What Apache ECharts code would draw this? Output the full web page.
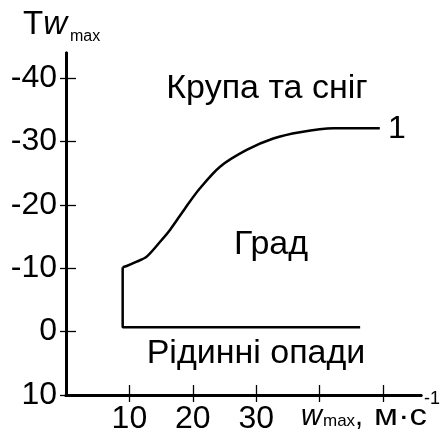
<!DOCTYPE html>
<html>
<head>
<meta charset="utf-8">
<script src="https://cdn.jsdelivr.net/npm/echarts@6/dist/echarts.min.js"></script>
<style>
html,body{margin:0;padding:0;background:#fff;}
#chart{width:441px;height:439px;}
</style>
</head>
<body>
<div id="chart"></div>
<script>
// ---- data ----
const yTickValues = [-40, -30, -20, -10, 0, 10];
const xTickValues = [10, 20, 30, 40, 50];
const xLabelValues = [10, 20, 30];
// boundary between liquid precipitation and hail (bottom line + vertical step)
const boundaryLine = [[46.4, -0.7], [8.94, -0.7], [8.94, -10.17]];
// curve 1: boundary between hail and graupel/snow
const curve1 = [
  [8.94, -10.17], [9.57, -10.37], [11.15, -11.05], [12.73, -11.84],
  [15.09, -14.48], [16.4, -16.06], [18.8, -19.5],
  [21.1, -22.6], [24.3, -26.05], [28.5, -28.7],
  [32.7, -30.5], [36.9, -31.5], [42.2, -32.1], [49.5, -32.1]
];
const regionLabels = ['Крупа та сніг', 'Град', 'Рідинні опади'];
const curveLabel = '1';

const FONT = '"Liberation Sans", Arial, sans-serif';
const chart = echarts.init(document.getElementById('chart'), null, {renderer: 'canvas'});

const axisLineStyle = {color: '#000', width: 3};
function xAxisDef(inside) {
  return {
    type: 'value', min: 0, max: 56, position: 'bottom',
    axisLine: {show: true, onZero: false, lineStyle: axisLineStyle},
    axisTick: {show: true, inside: inside, length: inside ? 10 : 7,
      customValues: xTickValues, lineStyle: {color: '#000', width: 1.3}},
    axisLabel: inside ? {show: false} : {show: true, customValues: xLabelValues,
      fontSize: 32, color: '#000', fontFamily: FONT, margin: 8},
    splitLine: {show: false}
  };
}
function yAxisDef(inside) {
  return {
    type: 'value', min: -44, max: 10, inverse: true, position: 'left',
    axisLine: {show: true, onZero: false, lineStyle: axisLineStyle},
    axisTick: {show: true, inside: inside, length: inside ? 10 : 6,
      customValues: yTickValues, lineStyle: {color: '#000', width: 1.3}},
    axisLabel: inside ? {show: false} : {show: true, customValues: yTickValues,
      fontSize: 32, color: '#000', fontFamily: FONT, margin: 9},
    splitLine: {show: false}
  };
}

const txt = (x, y, text, size, extra) => Object.assign({
  type: 'text', x: x, y: y, silent: true,
  style: Object.assign({text: text, fontSize: size, fontFamily: FONT, fill: '#000',
    verticalAlign: 'middle', align: 'left'}, extra || {})
});

chart.setOption({
  backgroundColor: '#fff',
  animation: false,
  grid: {left: 66, top: 53, width: 355, height: 342, containLabel: false},
  xAxis: [xAxisDef(false), xAxisDef(true)],
  yAxis: [yAxisDef(false), yAxisDef(true)],
  series: [
    {type: 'line', data: boundaryLine, symbol: 'none', xAxisIndex: 0, yAxisIndex: 0,
      lineStyle: {color: '#000', width: 2.5}},
    {type: 'line', data: curve1, symbol: 'none', smooth: 0.3,
      xAxisIndex: 0, yAxisIndex: 0, lineStyle: {color: '#000', width: 2.5}}
  ],
  graphic: [
    // y axis name: T w_max
    txt(23, 25, '{a|T}{b|w}', 33, {rich: {a: {fontSize: 33, fontFamily: FONT}, b: {fontSize: 33, fontStyle: 'italic', fontFamily: FONT}}}),
    txt(70, 37, 'max', 16),
    // x axis name: w_max, м·с^-1
    txt(301, 417, 'w', 29, {fontStyle: 'italic'}),
    txt(323, 421, 'max', 17),
    txt(355, 417, ',', 29),
    Object.assign(txt(374, 417, 'м·с', 29), {scaleX: 1.2, originX: 0, originY: 0}),
    txt(424, 399, '-1', 18),
    // region labels
    txt(267, 89, regionLabels[0], 34, {align: 'center'}),
    txt(271, 245, regionLabels[1], 34, {align: 'center'}),
    txt(256, 354, regionLabels[2], 34, {align: 'center'}),
    txt(388, 129, curveLabel, 32)
  ]
});
</script>
</body>
</html>
